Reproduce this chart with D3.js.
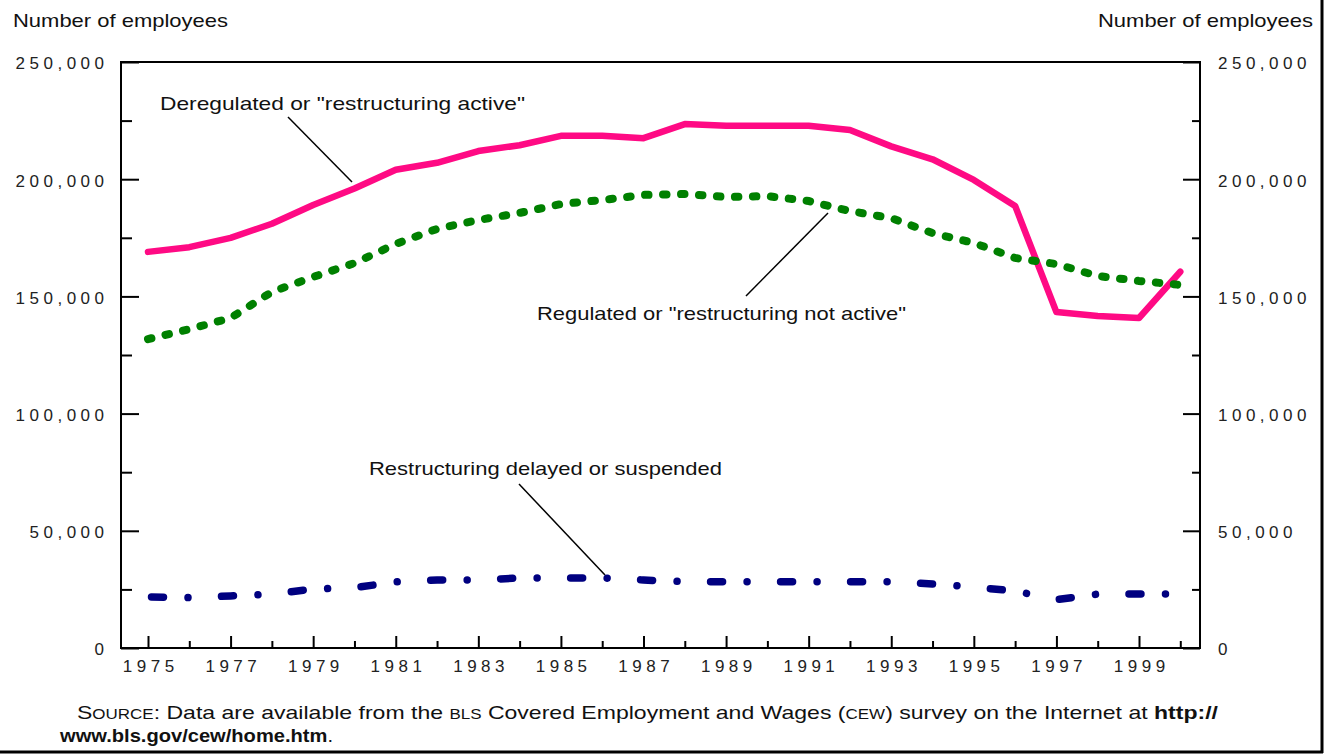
<!DOCTYPE html>
<html>
<head>
<meta charset="utf-8">
<script src="https://cdn.jsdelivr.net/npm/d3@7"></script>
<style>
  body { margin: 0; background: #fff; }
  svg { display: block; font-family: "Liberation Sans", Arial, sans-serif; }
  .tick text { font-size: 17px; letter-spacing: 4.5px; fill: #222; }
</style>
</head>
<body>
<svg width="1325" height="755"></svg>
<script>
// years 1975-2000
const years = d3.range(1975, 2001);

// Deregulated or "restructuring active"
const deregulated = [169000, 171000, 175000, 181000, 189000, 196000, 204000, 207000, 212000, 214500,
    218500, 218500, 217500, 223500, 222800, 222800, 222800, 221000, 214000, 208500,
    199700, 188600, 143300, 141600, 140800, 160500];

// Regulated or "restructuring not active"
const regulated = [131800, 136000, 140800, 151900, 158300, 164200, 172400, 178800, 182600, 185600,
    189400, 191100, 193300, 193700, 192400, 192800, 190700, 186400, 183400, 177000,
    172800, 166400, 163800, 158700, 156600, 154900];

// Restructuring delayed or suspended
const delayed = [21800, 21500, 22200, 23000, 25200, 25700, 28200, 29000, 29000, 29900,
    29900, 29900, 29000, 28300, 28300, 28300, 28300, 28300, 28300, 27300,
    26000, 24300, 20600, 23000, 23000, 23000];

const yTicks = [0, 50000, 100000, 150000, 200000, 250000];
const yMinorTicks = [25000, 75000, 125000, 175000, 225000];
const xTicks = d3.range(1975, 2000, 2);
const xMinorTicks = d3.range(1976, 2001, 2);

function drawChart() {
    const svg = d3.select('svg');
    const left = 121, right = 1200, top = 62, bottom = 648;

    const x = d3.scaleLinear()
        .domain([1975, 1999])
        .range([148, 1139]);

    const y = d3.scaleLinear()
        .domain([0, 250000])
        .range([bottom, top]);

    const fmt = d3.format(',');

    // frame lines (right + bottom of the figure)
    svg.append('line').attr('x1', 1322).attr('x2', 1322).attr('y1', 0).attr('y2', 753)
        .attr('stroke', '#000').attr('stroke-width', 3);
    svg.append('line').attr('x1', 0).attr('x2', 1323).attr('y1', 752).attr('y2', 752)
        .attr('stroke', '#000').attr('stroke-width', 3);

    // plot box
    svg.append('path')
        .attr('d', `M${left},${bottom}V${top}H${right}V${bottom}Z`)
        .attr('fill', 'none').attr('stroke', '#000').attr('stroke-width', 2);

    // x axis
    const gx = svg.append('g').attr('transform', `translate(0,${bottom})`)
        .call(d3.axisBottom(x).tickValues(xTicks).tickSize(-12).tickFormat(d3.format('d')));
    gx.select('.domain').remove();
    gx.selectAll('.tick line').attr('stroke', '#000').attr('stroke-width', 2);
    gx.selectAll('.tick text').attr('y', 24).attr('dy', 0).attr('dx', 2.25);

    const gxm = svg.append('g').attr('transform', `translate(0,${bottom})`)
        .call(d3.axisBottom(x).tickValues(xMinorTicks).tickSize(-7).tickFormat(''));
    gxm.select('.domain').remove();
    gxm.selectAll('.tick line').attr('stroke', '#000').attr('stroke-width', 2);

    // left axis
    const gy = svg.append('g').attr('transform', `translate(${left},0)`)
        .call(d3.axisLeft(y).tickValues(yTicks).tickSize(-18).tickFormat(fmt));
    gy.select('.domain').remove();
    gy.selectAll('.tick line').attr('stroke', '#000').attr('stroke-width', 2);
    gy.selectAll('.tick text').attr('x', -12.5).attr('dy', '0.4em');

    const gym = svg.append('g').attr('transform', `translate(${left},0)`)
        .call(d3.axisLeft(y).tickValues(yMinorTicks).tickSize(-11).tickFormat(''));
    gym.select('.domain').remove();
    gym.selectAll('.tick line').attr('stroke', '#000').attr('stroke-width', 2);

    // right axis
    const gr = svg.append('g').attr('transform', `translate(${right},0)`)
        .call(d3.axisRight(y).tickValues(yTicks).tickSize(-17).tickFormat(fmt));
    gr.select('.domain').remove();
    gr.selectAll('.tick line').attr('stroke', '#000').attr('stroke-width', 2);
    gr.selectAll('.tick text').attr('x', 18).attr('dy', '0.4em');

    const grm = svg.append('g').attr('transform', `translate(${right},0)`)
        .call(d3.axisRight(y).tickValues(yMinorTicks).tickSize(-8).tickFormat(''));
    grm.select('.domain').remove();
    grm.selectAll('.tick line').attr('stroke', '#000').attr('stroke-width', 2);

    // axis titles
    svg.append('text').attr('x', 13).attr('y', 27).attr('font-size', 19).attr('fill', '#111')
        .attr('textLength', 215).attr('lengthAdjust', 'spacingAndGlyphs')
        .text('Number of employees');
    svg.append('text').attr('x', 1098).attr('y', 27).attr('font-size', 19).attr('fill', '#111')
        .attr('textLength', 215).attr('lengthAdjust', 'spacingAndGlyphs')
        .text('Number of employees');

    // series
    const line = d3.line()
        .x((d, i) => x(years[i]))
        .y(d => y(d));

    svg.append('path').datum(deregulated)
        .attr('d', line).attr('fill', 'none')
        .attr('stroke', '#ff0a84').attr('stroke-width', 6.5)
        .attr('stroke-linejoin', 'round').attr('stroke-linecap', 'round');

    svg.append('path').datum(regulated)
        .attr('d', line).attr('fill', 'none')
        .attr('stroke', '#008000').attr('stroke-width', 8)
        .attr('stroke-dasharray', '3.5,14.5')
        .attr('stroke-linecap', 'round');

    svg.append('path').datum(delayed)
        .attr('d', line).attr('fill', 'none')
        .attr('stroke', '#000080').attr('stroke-width', 7.5)
        .attr('stroke-dasharray', '12,24.5,0.01,33.5')
        .attr('stroke-dashoffset', -3.5)
        .attr('stroke-linecap', 'round');

    // annotations with leader lines
    const notes = [
        { text: 'Deregulated or "restructuring active"', tx: 160, ty: 110, w: 365, l: [288, 117, 352, 182] },
        { text: 'Regulated or "restructuring not active"', tx: 537, ty: 320, w: 369, l: [746, 296, 828, 213] },
        { text: 'Restructuring delayed or suspended', tx: 369, ty: 475, w: 353, l: [519, 484, 605, 575] }
    ];
    notes.forEach(n => {
        svg.append('line')
            .attr('x1', n.l[0]).attr('y1', n.l[1]).attr('x2', n.l[2]).attr('y2', n.l[3])
            .attr('stroke', '#000').attr('stroke-width', 1.5);
        svg.append('text').attr('x', n.tx).attr('y', n.ty)
            .attr('font-size', 19).attr('fill', '#111')
            .attr('textLength', n.w).attr('lengthAdjust', 'spacingAndGlyphs')
            .text(n.text);
    });

    // source note
    const src = svg.append('text').attr('x', 77).attr('y', 719)
        .attr('font-size', 19).attr('fill', '#111')
        .attr('textLength', 1141).attr('lengthAdjust', 'spacingAndGlyphs');
    src.append('tspan').text('S');
    src.append('tspan').attr('font-size', 14).text('OURCE');
    src.append('tspan').text(':  Data are available from the ');
    src.append('tspan').attr('font-size', 14).text('BLS');
    src.append('tspan').text(' Covered Employment and Wages (');
    src.append('tspan').attr('font-size', 14).text('CEW');
    src.append('tspan').text(') survey on the Internet at  ');
    src.append('tspan').attr('font-weight', 'bold').text('http://');

    svg.append('text').attr('x', 60).attr('y', 742)
        .attr('font-size', 19).attr('fill', '#111')
        .attr('textLength', 273).attr('lengthAdjust', 'spacingAndGlyphs')
        .call(t => {
            t.append('tspan').attr('font-weight', 'bold').text('www.bls.gov/cew/home.htm');
            t.append('tspan').text('.');
        });
}

drawChart();
</script>
</body>
</html>
